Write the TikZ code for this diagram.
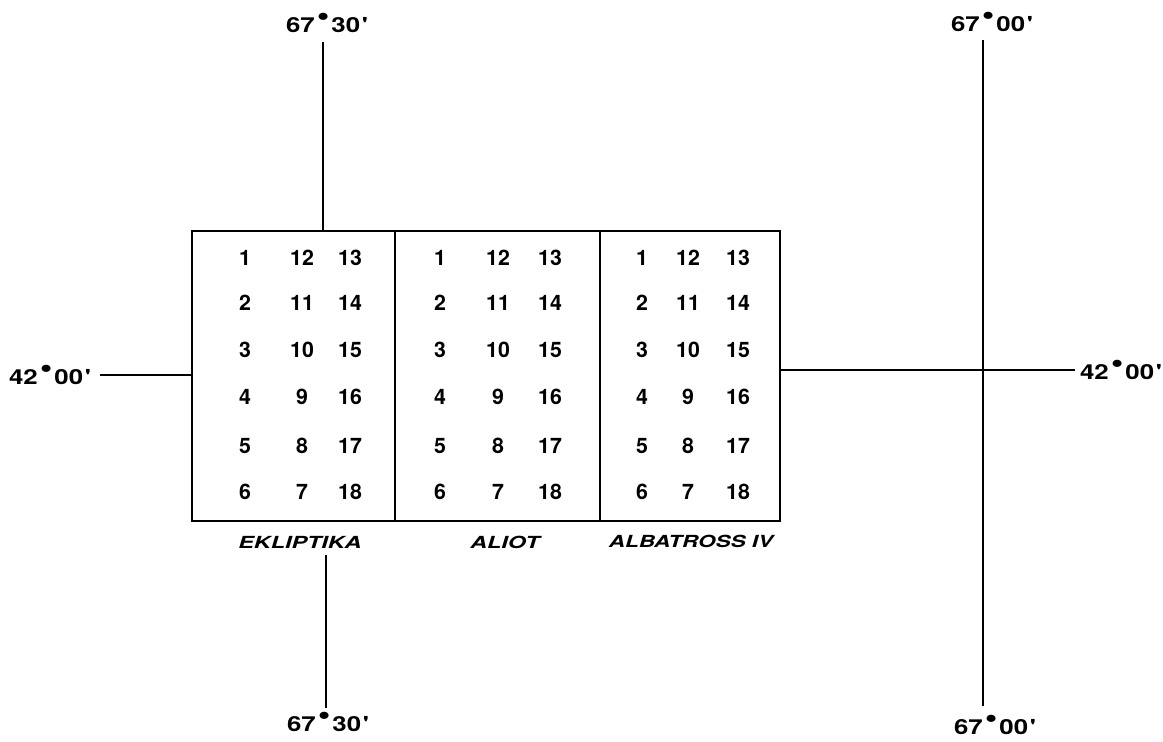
\documentclass[tikz,border=0pt]{standalone}
\usepackage{fontspec}
\setmainfont{TeX Gyre Heros}
\newcommand{\dg}{\kern1.2pt\raisebox{0.3em}{\scalebox{1.4}{\textbullet}}\kern1.2pt}
\newcommand{\mn}{\kern1pt\textquotesingle}
\newcommand{\deglab}[1]{\scalebox{1.25}[1]{#1}}
\begin{document}
\begin{tikzpicture}[x=0.75pt,y=-0.75pt,
  line width=2pt,
  num/.style={font=\bfseries\fontsize{16}{16}\selectfont, inner sep=0pt},
  deg/.style={font=\bfseries\fontsize{15.5}{15.5}\selectfont, inner sep=0pt},
  ship/.style={font=\bfseries\itshape\fontsize{12.5}{12.5}\selectfont, inner sep=0pt},
  panel/.style={draw, line width=2pt}]
\useasboundingbox (0,0) rectangle (1163,742);
% panels
\path (192,231) coordinate (p1nw) (395,521) coordinate (p1se);
\path (395,231) coordinate (p2nw) (600,521) coordinate (p2se);
\path (600,231) coordinate (p3nw) (780,521) coordinate (p3se);
\draw[panel] (p1nw) rectangle (p1se);
\draw[panel] (p2nw) rectangle (p2se);
\draw[panel] (p3nw) rectangle (p3se);
% numbers
\foreach \bx/\ca/\cb/\cc in {1/245/302/350, 2/440/498/550, 3/642/688/738}{
  \foreach \r/\y/\a/\b/\c in {1/258/1/12/13, 2/303/2/11/14, 3/350/3/10/15, 4/397/4/9/16, 5/446/5/8/17, 6/492/6/7/18}{
    \node[num] (n\bx-\r-a) at (\ca,\y) {\a};
    \node[num] (n\bx-\r-b) at (\cb,\y) {\b};
    \node[num] (n\bx-\r-c) at (\cc,\y) {\c};
  }
}
% ship names
\node[ship] (s1) at (300,542) {\scalebox{1.4}[1]{EKLIPTIKA}};
\node[ship] (s2) at (505,542) {\scalebox{1.4}[1]{ALIOT}};
\node[ship] (s3) at (691,541) {\scalebox{1.35}[1]{ALBATROSS IV}};
% degree labels
\node[deg] (t1) at (327,23) {\deglab{67\dg30\mn}};
\node[deg] (b1) at (328,722) {\deglab{67\dg30\mn}};
\node[deg] (t2) at (992,22) {\deglab{67\dg00\mn}};
\node[deg] (b2) at (995,725) {\deglab{67\dg00\mn}};
\node[deg] (l1) at (50,375) {\deglab{42\dg00\mn}};
\node[deg] (r1) at (1121,370) {\deglab{42\dg00\mn}};
% coordinates for line ends
\coordinate (c1t) at (323,42);
\coordinate (c1a) at (323,231);
\coordinate (c1b) at (326,555);
\coordinate (c1e) at (326,708);
\coordinate (c2t) at (983,40);
\coordinate (c2e) at (983,706);
\coordinate (h1s) at (100,375);
\coordinate (h1e) at (192,375);
\coordinate (h2s) at (780,370);
\coordinate (h2e) at (1075,370);
\draw (c1t) -- (c1a);
\draw (c1b) -- (c1e);
\draw (c2t) -- (c2e);
\draw (h1s) -- (h1e);
\draw (h2s) -- (h2e);
\end{tikzpicture}
\end{document}
